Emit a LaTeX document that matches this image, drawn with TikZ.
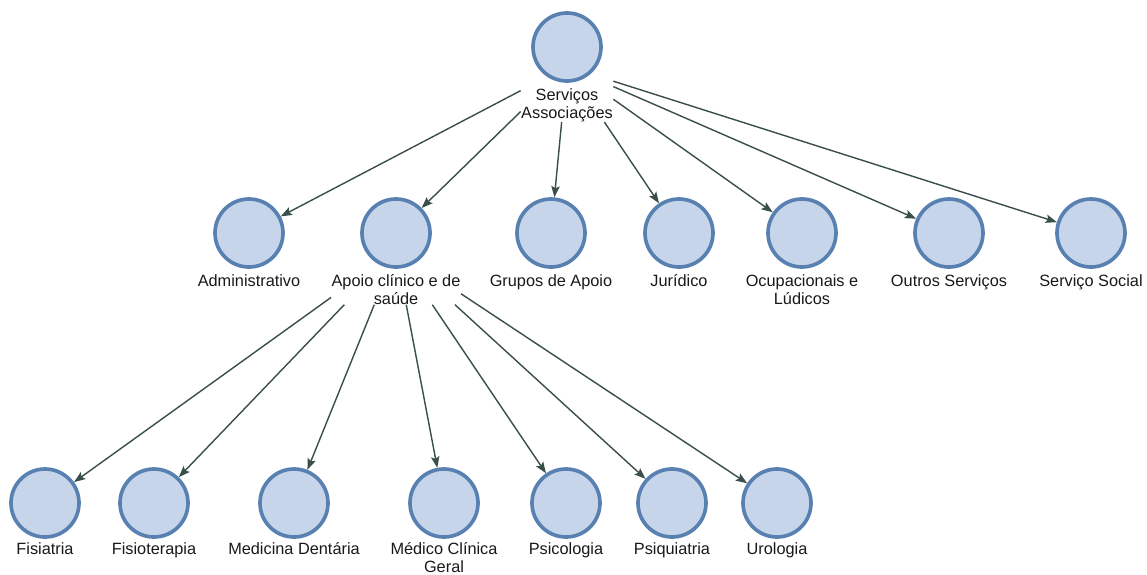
\documentclass[tikz,border=0pt]{standalone}
\usepackage{fontspec}
\setmainfont{Liberation Sans}
\usetikzlibrary{arrows.meta,fit}
\definecolor{ringfill}{RGB}{198,213,234}
\definecolor{ringdraw}{RGB}{88,128,176}
\definecolor{linkgray}{RGB}{58,78,74}
\begin{document}
\begin{tikzpicture}[x=0.025cm,y=-0.025cm,
  unit/.style={circle,draw=ringdraw,fill=ringfill,line width=2.6pt,minimum size=1.7cm,inner sep=0pt},
  caption/.style={anchor=base,align=center,inner sep=0pt,font=\fontsize{11.6pt}{12.8pt}\selectfont,text=black!90},
  box/.style={inner sep=0pt},
  link/.style={draw=linkgray,line width=1pt,-{Stealth[length=8pt,width=6pt,inset=1.5pt]}}]
\useasboundingbox (0,0) rectangle (1147,574);
\node [unit] (srv) at (567,47) {};
\node [caption] (srvl) at (567,118) {Serviços\\Associações};
\node [box,fit=(srv)(srvl)] (srvb) {};
\node [unit] (adm) at (249,233) {};
\node [caption] (adml) at (249,286) {Administrativo};
\node [unit] (apo) at (396,233) {};
\node [caption] (apol) at (396,304) {Apoio clínico e de\\saúde};
\node [box,fit=(apo)(apol)] (apob) {};
\node [unit] (grp) at (551,233) {};
\node [caption] (grpl) at (551,286) {Grupos de Apoio};
\node [unit] (jur) at (679,233) {};
\node [caption] (jurl) at (679,286) {Jurídico};
\node [unit] (ocu) at (802,233) {};
\node [caption] (ocul) at (802,304) {Ocupacionais e\\Lúdicos};
\node [unit] (out) at (949,233) {};
\node [caption] (outl) at (949,286) {Outros Serviços};
\node [unit] (soc) at (1091,233) {};
\node [caption] (socl) at (1091,286) {Serviço Social};
\node [unit] (fisa) at (45,503) {};
\node [caption] (fisal) at (45,554) {Fisiatria};
\node [unit] (fist) at (154,503) {};
\node [caption] (fistl) at (154,554) {Fisioterapia};
\node [unit] (med) at (294,503) {};
\node [caption] (medl) at (294,554) {Medicina Dentária};
\node [unit] (mcg) at (444,503) {};
\node [caption] (mcgl) at (444,572) {Médico Clínica\\Geral};
\node [unit] (psc) at (566,503) {};
\node [caption] (pscl) at (566,554) {Psicologia};
\node [unit] (psq) at (672,503) {};
\node [caption] (psql) at (672,554) {Psiquiatria};
\node [unit] (uro) at (777,503) {};
\node [caption] (urol) at (777,554) {Urologia};
\draw [link] (srvb) -- (adm);
\draw [link] (srvb) -- (apo);
\draw [link] (srvb) -- (grp);
\draw [link] (srvb) -- (jur);
\draw [link] (srvb) -- (ocu);
\draw [link] (srvb) -- (out);
\draw [link] (srvb) -- (soc);
\draw [link] (apob) -- (fisa);
\draw [link] (apob) -- (fist);
\draw [link] (apob) -- (med);
\draw [link] (apob) -- (mcg);
\draw [link] (apob) -- (psc);
\draw [link] (apob) -- (psq);
\draw [link] (apob) -- (uro);
\end{tikzpicture}
\end{document}
